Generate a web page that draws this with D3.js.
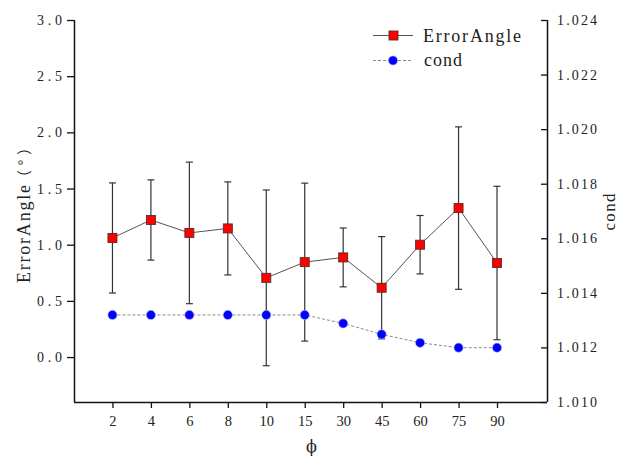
<!DOCTYPE html>
<html>
<head>
<meta charset="utf-8">
<script src="https://cdn.jsdelivr.net/npm/d3@7"></script>
<style>
  html, body { margin: 0; padding: 0; background: #fff; }
  svg { display: block; }
</style>
</head>
<body>
<svg id="chart" width="619" height="456"></svg>
<script>
// ---- data ----
const categories = ["2", "4", "6", "8", "10", "15", "30", "45", "60", "75", "90"];
const errorAngle = [1.06, 1.22, 1.105, 1.145, 0.705, 0.845, 0.887, 0.617, 1.0, 1.326, 0.837];
const errorAngleErr = [0.49, 0.357, 0.63, 0.414, 0.782, 0.703, 0.262, 0.455, 0.26, 0.723, 0.683];
const cond = [1.01319, 1.01319, 1.01319, 1.01319, 1.01319, 1.01319, 1.01288, 1.01248, 1.01217, 1.01199, 1.01199];
const leftTicks = [0.0, 0.5, 1.0, 1.5, 2.0, 2.5, 3.0];
const rightTicks = [1.010, 1.012, 1.014, 1.016, 1.018, 1.020, 1.022, 1.024];
const seriesNames = ["ErrorAngle", "cond"];
const xTitle = "ϕ";
const yLeftTitleMain = "ErrorAngle";
const yLeftTitleUnit = "（°）";
const yRightTitle = "cond";

// ---- layout ----
const SERIF = "Liberation Serif";
const L = 74, R = 547, T = 20, B = 402;
const svg = d3.select("#chart");

const x = d3.scaleLinear().domain([-1, 11.3]).range([L, R]);
const yL = d3.scaleLinear().domain([-0.4, 3.0]).range([B, T]);
const yR = d3.scaleLinear().domain([1.010, 1.024]).range([B, T]);

// axes
const xAxis = d3.axisBottom(x)
  .tickValues(d3.range(categories.length))
  .tickFormat(i => categories[i])
  .tickSizeInner(6).tickSizeOuter(0).tickPadding(8);
const gx = svg.append("g").attr("transform", `translate(0,${B})`).call(xAxis);
gx.select(".domain").attr("d", `M${L},0.5H${R}`);
gx.attr("font-family", SERIF).attr("font-size", 14.5);

const yAxisL = d3.axisLeft(yL).tickValues(leftTicks)
  .tickFormat(d3.format(".1f")).tickSizeInner(7).tickSizeOuter(0).tickPadding(5);
const gyl = svg.append("g").attr("transform", `translate(${L},0)`).call(yAxisL);
gyl.select(".domain").attr("d", `M0.5,${T}V${B}`);
gyl.attr("font-family", SERIF).attr("font-size", 14);
gyl.selectAll("text").attr("textLength", 25).attr("lengthAdjust", "spacing");

const yAxisR = d3.axisRight(yR).tickValues(rightTicks)
  .tickFormat(d3.format(".3f")).tickSizeInner(-6).tickSizeOuter(0).tickPadding(10);
const gyr = svg.append("g").attr("transform", `translate(${R},0)`).call(yAxisR);
gyr.select(".domain").attr("d", `M0.5,${T}V${B}`);
gyr.attr("font-family", SERIF).attr("font-size", 14);
gyr.selectAll("text").attr("x", 10).attr("textLength", 40).attr("lengthAdjust", "spacing");

svg.selectAll(".domain").attr("stroke", "#111").attr("stroke-width", 1.5);
svg.selectAll(".tick line").attr("stroke", "#111").attr("stroke-width", 1.3);
svg.selectAll(".tick text").attr("fill", "#222");

// titles
svg.append("text").attr("x", (L + R) / 2 + 1).attr("y", 452).attr("text-anchor", "middle")
  .attr("font-family", "DejaVu Serif").attr("font-size", 16).attr("fill", "#222").text(xTitle);

// left title: "ErrorAngle（°）" centred on the axis, reading upward
svg.append("text").attr("transform", "translate(30,283) rotate(-90)")
  .attr("text-anchor", "start").attr("fill", "#222")
  .attr("font-family", SERIF).attr("font-size", 18)
  .attr("textLength", 98).attr("lengthAdjust", "spacing").text(yLeftTitleMain);
svg.append("text").attr("transform", "translate(30,185) rotate(-90)")
  .attr("text-anchor", "start").attr("fill", "#222")
  .attr("font-family", "Noto Sans CJK SC").attr("font-size", 15)
  .attr("textLength", 45).attr("lengthAdjust", "spacing").text(yLeftTitleUnit);

svg.append("text").attr("transform", "translate(615,212) rotate(-90)")
  .attr("text-anchor", "middle").attr("fill", "#222")
  .attr("font-family", SERIF).attr("font-size", 17)
  .attr("textLength", 37).attr("lengthAdjust", "spacing").text(yRightTitle);

// error bars
const idx = d3.range(categories.length);
const eb = svg.append("g").attr("stroke", "#333").attr("stroke-width", 1.2);
idx.forEach(i => {
  const cx = x(i), y1 = yL(errorAngle[i] + errorAngleErr[i]), y2 = yL(errorAngle[i] - errorAngleErr[i]);
  eb.append("line").attr("x1", cx).attr("x2", cx).attr("y1", y1).attr("y2", y2);
  eb.append("line").attr("x1", cx - 3.5).attr("x2", cx + 3.5).attr("y1", y1).attr("y2", y1);
  eb.append("line").attr("x1", cx - 3.5).attr("x2", cx + 3.5).attr("y1", y2).attr("y2", y2);
});

// cond line + points
svg.append("path").datum(idx)
  .attr("fill", "none").attr("stroke", "#8a8a8a").attr("stroke-width", 1)
  .attr("stroke-dasharray", "3,2")
  .attr("d", d3.line().x(i => x(i)).y(i => yR(cond[i])));
svg.append("g").selectAll("circle").data(idx).join("circle")
  .attr("cx", i => x(i)).attr("cy", i => yR(cond[i])).attr("r", 4.6)
  .attr("fill", "#0000ff").attr("stroke", "#b8b8e8").attr("stroke-width", 0.6);

// error angle line + points
svg.append("path").datum(idx)
  .attr("fill", "none").attr("stroke", "#555").attr("stroke-width", 1)
  .attr("d", d3.line().x(i => x(i)).y(i => yL(errorAngle[i])));
svg.append("g").selectAll("rect").data(idx).join("rect")
  .attr("x", i => x(i) - 4.5).attr("y", i => yL(errorAngle[i]) - 4.5)
  .attr("width", 9).attr("height", 9)
  .attr("fill", "#ff0000").attr("stroke", "#5a2a2a").attr("stroke-width", 0.9);

// legend
const lg = svg.append("g").attr("font-family", SERIF).attr("font-size", 18).attr("fill", "#222");
lg.append("line").attr("x1", 373).attr("x2", 413).attr("y1", 35.5).attr("y2", 35.5)
  .attr("stroke", "#555").attr("stroke-width", 1);
lg.append("rect").attr("x", 389).attr("y", 31).attr("width", 9).attr("height", 9)
  .attr("fill", "#ff0000").attr("stroke", "#5a2a2a").attr("stroke-width", 0.9);
lg.append("text").attr("x", 423).attr("y", 41.5)
  .attr("textLength", 98).attr("lengthAdjust", "spacing").text(seriesNames[0]);
lg.append("line").attr("x1", 373).attr("x2", 413).attr("y1", 60.5).attr("y2", 60.5)
  .attr("stroke", "#8a8a8a").attr("stroke-width", 1).attr("stroke-dasharray", "3,2");
lg.append("circle").attr("cx", 393).attr("cy", 60.5).attr("r", 4.6)
  .attr("fill", "#0000ff").attr("stroke", "#b8b8e8").attr("stroke-width", 0.6);
lg.append("text").attr("x", 424).attr("y", 66)
  .attr("textLength", 38).attr("lengthAdjust", "spacing").text(seriesNames[1]);
</script>
</body>
</html>
